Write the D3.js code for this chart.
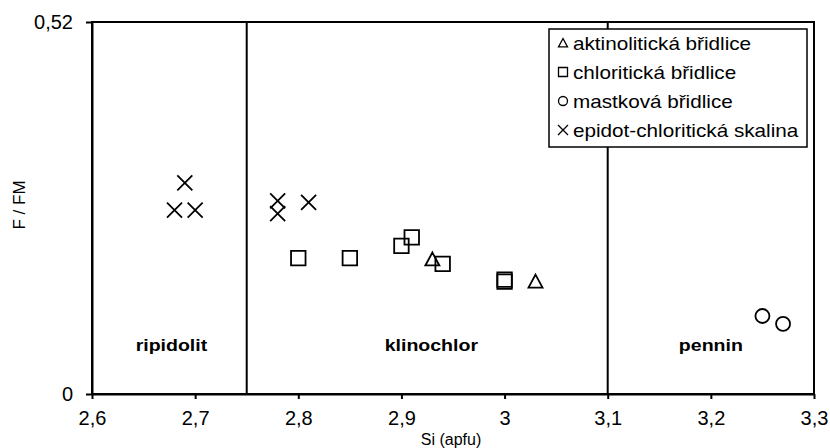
<!DOCTYPE html>
<html>
<head>
<meta charset="utf-8">
<script src="https://cdn.jsdelivr.net/npm/d3@7"></script>
<style>
  body { margin: 0; background: #fff; }
  svg text { font-family: "Liberation Sans", Arial, sans-serif; fill: #000; }
</style>
</head>
<body>
<svg width="830" height="448"></svg>
<script>
// series: [Si, F/FM]
let aktinolit = [[2.93, 0.188], [3.03, 0.157]];
let chlorit = [[2.80, 0.190], [2.85, 0.190], [2.90, 0.207], [2.91, 0.219], [2.94, 0.182], [3.00, 0.160], [3.00, 0.157]];
let mastek = [[3.25, 0.109], [3.27, 0.098]];
let epidot = [[2.69, 0.295], [2.68, 0.257], [2.70, 0.257], [2.78, 0.270], [2.78, 0.252], [2.81, 0.268]];

let seriesNames = ["aktinolitická břidlice", "chloritická břidlice", "mastková břidlice", "epidot-chloritická skalina"];
let seriesShapes = ["triangle", "square", "circle", "cross"];

let xTicks = [2.6, 2.7, 2.8, 2.9, 3, 3.1, 3.2, 3.3];
let yTicks = [0, 0.52];

let boundaries = [2.75, 3.1];
let regionNames = ["ripidolit", "klinochlor", "pennin"];
let regionX = [2.677, 2.929, 3.2];
let regionY = 0.06;

let svg = d3.select("svg");

let xScale = d3.scaleLinear().domain([2.6, 3.3]).range([92, 814]);
let yScale = d3.scaleLinear().domain([0, 0.52]).range([394, 22]);

// marker path, centered on 0,0
function shape(type, s) {
  let h = s / 2;
  if (type == "triangle") return `M0,${-h}L${h},${h * 0.85}L${-h},${h * 0.85}Z`;
  if (type == "square") return `M${-h},${-h}H${h}V${h}H${-h}Z`;
  if (type == "circle") return `M${h},0A${h},${h} 0 1,1 ${-h},0A${h},${h} 0 1,1 ${h},0Z`;
  return `M${-h},${-h}L${h},${h}M${-h},${h}L${h},${-h}`;
}

// frame
svg.append("rect")
  .attr("x", xScale(2.6)).attr("y", yScale(0.52))
  .attr("width", xScale(3.3) - xScale(2.6))
  .attr("height", yScale(0) - yScale(0.52))
  .attr("fill", "none").attr("stroke", "#000").attr("stroke-width", 2);

// field boundaries
svg.selectAll(".bound")
  .data(boundaries)
  .enter()
  .append("line")
  .attr("class", "bound")
  .attr("x1", d => xScale(d)).attr("x2", d => xScale(d))
  .attr("y1", yScale(0.52)).attr("y2", yScale(0))
  .attr("stroke", "#000").attr("stroke-width", 2);

let xAxis = d3.axisBottom(xScale)
  .tickValues(xTicks)
  .tickSize(5).tickSizeOuter(0).tickPadding(12)
  .tickFormat(d => String(d).replace(".", ","));

let gx = svg.append("g")
  .attr("transform", "translate(0," + yScale(0) + ")")
  .call(xAxis);

let yAxis = d3.axisLeft(yScale)
  .tickValues(yTicks)
  .tickSize(6).tickSizeOuter(0).tickPadding(13)
  .tickFormat(d => String(d).replace(".", ","));

let gy = svg.append("g")
  .attr("transform", "translate(" + xScale(2.6) + ",0)")
  .call(yAxis);

[gx, gy].forEach(g => {
  g.select(".domain").attr("stroke", "#000").attr("stroke-width", 2);
  g.selectAll(".tick line").attr("stroke", "#000").attr("stroke-width", 2);
  g.selectAll(".tick text").attr("font-size", 20).attr("font-family", "Liberation Sans, Arial, sans-serif").attr("fill", "#000");
});

// axis titles
svg.append("text")
  .attr("x", 451).attr("y", 445)
  .attr("text-anchor", "middle")
  .attr("font-size", 16)
  .text("Si (apfu)");

svg.append("text")
  .attr("transform", "translate(25,205) rotate(-90)")
  .attr("text-anchor", "middle")
  .attr("font-size", 17)
  .text("F / FM");

// field names
svg.selectAll(".region")
  .data(regionNames)
  .enter()
  .append("text")
  .attr("class", "region")
  .attr("transform", (d, i) => `translate(${xScale(regionX[i])},${yScale(regionY)}) scale(1.15,1)`)
  .attr("text-anchor", "middle")
  .attr("font-size", 17)
  .attr("font-weight", "bold")
  .text(d => d);

// points
let allSeries = [aktinolit, chlorit, mastek, epidot];
let markerSize = { triangle: 14, square: 14.5, circle: 14, cross: 15 };

allSeries.forEach((pts, i) => {
  svg.append("g")
    .selectAll("path")
    .data(pts)
    .enter()
    .append("path")
    .attr("transform", d => `translate(${xScale(d[0])},${yScale(d[1])})`)
    .attr("d", shape(seriesShapes[i], markerSize[seriesShapes[i]]))
    .attr("fill", "none")
    .attr("stroke", "#000")
    .attr("stroke-width", 1.8);
});

// legend
let legend = svg.append("g");
legend.append("rect")
  .attr("x", 549).attr("y", 29)
  .attr("width", 258).attr("height", 118)
  .attr("fill", "#fff").attr("stroke", "#000").attr("stroke-width", 1.5);

let legendSize = { triangle: 9, square: 9, circle: 9, cross: 10 };
let rows = legend.selectAll(".row")
  .data(seriesNames)
  .enter()
  .append("g")
  .attr("class", "row")
  .attr("transform", (d, i) => `translate(563,${43 + i * 29})`);

rows.append("path")
  .attr("d", (d, i) => shape(seriesShapes[i], legendSize[seriesShapes[i]]))
  .attr("fill", "none").attr("stroke", "#000").attr("stroke-width", 1.3);

rows.append("text")
  .attr("transform", "translate(10,6.5) scale(1.15,1)")
  .attr("font-size", 18)
  .text(d => d);
</script>
</body>
</html>
